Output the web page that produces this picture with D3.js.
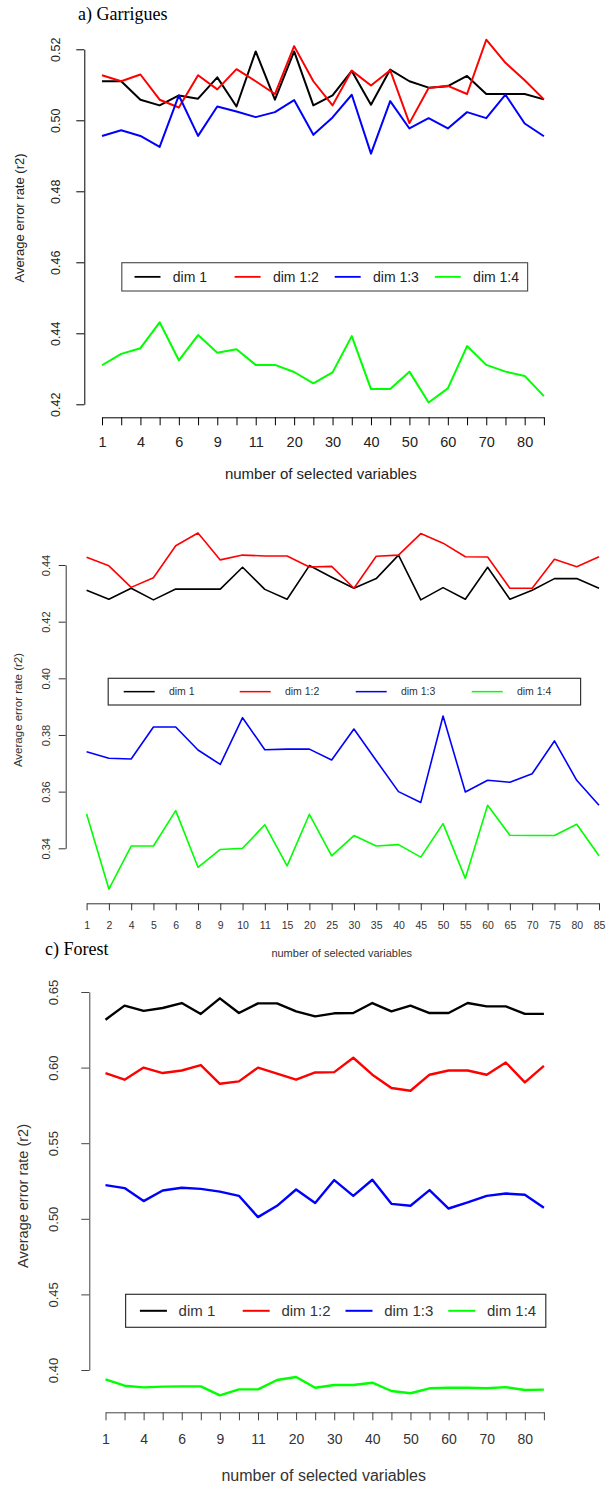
<!DOCTYPE html>
<html>
<head>
<meta charset="utf-8">
<script src="https://cdn.jsdelivr.net/npm/d3@7"></script>
<style>
  body { margin: 0; background: #fff; }
  svg { display: block; }
</style>
</head>
<body>
<div id="chart"></div>
<script>
// number of selected variables (same for the 3 panels)
const categories = ["1", "2", "4", "5", "6", "8", "9", "10", "11", "15", "20", "25",
  "30", "35", "40", "45", "50", "55", "60", "65", "70", "75", "80", "85"];

const seriesNames = ["dim 1", "dim 1:2", "dim 1:3", "dim 1:4"];
const seriesColors = ["#000000", "#ff0000", "#0000ff", "#00ff00"];

// a) Garrigues
const aDim1 = [0.511, 0.511, 0.5058, 0.5042, 0.507, 0.5061, 0.5121, 0.5039, 0.5194, 0.5058, 0.5194, 0.5042,
  0.507, 0.5139, 0.5044, 0.5143, 0.511, 0.5092, 0.5096, 0.5125, 0.5074, 0.5074, 0.5074, 0.5059];
const aDim12 = [0.5127, 0.511, 0.5129, 0.5058, 0.5036, 0.5127, 0.5087, 0.5144, 0.511, 0.5074, 0.5209, 0.511,
  0.5042, 0.514, 0.5098, 0.5141, 0.4992, 0.5091, 0.5097, 0.5074, 0.5227, 0.5162, 0.5113, 0.5059];
const aDim13 = [0.4956, 0.4972, 0.4956, 0.4925, 0.507, 0.4956, 0.5039, 0.5025, 0.5009, 0.5023, 0.5057, 0.4959,
  0.5008, 0.5072, 0.4906, 0.5054, 0.4977, 0.5006, 0.4977, 0.5023, 0.5006, 0.5072, 0.4991, 0.4955];
const aDim14 = [0.431, 0.4342, 0.4358, 0.4431, 0.4324, 0.4395, 0.4345, 0.4355, 0.4311, 0.4311, 0.4291, 0.4259,
  0.429, 0.4392, 0.4243, 0.4243, 0.4292, 0.4205, 0.4245, 0.4364, 0.4311, 0.4292, 0.428, 0.4223];
const aYTicks = [0.42, 0.44, 0.46, 0.48, 0.50, 0.52];

// b) (no title)
const bDim1 = [0.4311, 0.4279, 0.4318, 0.4277, 0.4315, 0.4315, 0.4315, 0.4392, 0.4314, 0.4279, 0.4398, 0.4357,
  0.4318, 0.4352, 0.4435, 0.4277, 0.432, 0.4279, 0.4392, 0.4279, 0.4311, 0.4352, 0.4352, 0.4318];
const bDim12 = [0.4427, 0.4397, 0.4321, 0.4355, 0.4468, 0.4513, 0.4418, 0.4435, 0.4432, 0.4432, 0.4393, 0.4395,
  0.4318, 0.4431, 0.4435, 0.4511, 0.4477, 0.4429, 0.4428, 0.4318, 0.4318, 0.442, 0.4394, 0.4429];
const bDim13 = [0.3741, 0.3718, 0.3715, 0.3828, 0.3828, 0.3747, 0.3696, 0.3861, 0.3748, 0.375, 0.375, 0.3712,
  0.3821, 0.371, 0.36, 0.3562, 0.3867, 0.3599, 0.364, 0.3633, 0.3663, 0.3779, 0.364, 0.3552];
const bDim14 = [0.3521, 0.3256, 0.3408, 0.3408, 0.3533, 0.3333, 0.3396, 0.34, 0.3483, 0.3338, 0.352, 0.3373,
  0.3445, 0.3408, 0.3413, 0.3369, 0.3487, 0.3294, 0.3552, 0.3446, 0.3445, 0.3445, 0.3485, 0.3374];
const bYTicks = [0.34, 0.36, 0.38, 0.40, 0.42, 0.44];

// c) Forest
const cDim1 = [0.6317, 0.641, 0.6375, 0.6394, 0.6427, 0.6355, 0.6458, 0.6361, 0.6425, 0.6425, 0.6372, 0.6339,
  0.6359, 0.6361, 0.6427, 0.6372, 0.641, 0.6361, 0.6361, 0.6427, 0.6405, 0.6405, 0.6355, 0.6355];
const cDim12 = [0.5964, 0.592, 0.6, 0.5964, 0.5981, 0.6017, 0.5893, 0.5909, 0.6, 0.596, 0.592, 0.5968,
  0.597, 0.6065, 0.5953, 0.5865, 0.5847, 0.5953, 0.5981, 0.5981, 0.5953, 0.6034, 0.5902, 0.6012];
const cDim13 = [0.5223, 0.5203, 0.5117, 0.5187, 0.5205, 0.5198, 0.518, 0.5152, 0.5011, 0.5086, 0.5194, 0.5104,
  0.5256, 0.5152, 0.5258, 0.5099, 0.5086, 0.519, 0.5068, 0.5108, 0.5152, 0.5167, 0.5159, 0.5073];
const cDim14 = [0.3938, 0.3896, 0.3885, 0.389, 0.3892, 0.3892, 0.3832, 0.3872, 0.3872, 0.3934, 0.3954, 0.3883,
  0.3901, 0.3901, 0.3916, 0.3861, 0.3846, 0.3879, 0.3883, 0.3883, 0.3879, 0.3887, 0.3868, 0.387];
const cYTicks = [0.40, 0.45, 0.50, 0.55, 0.60, 0.65];

const sans = "'Liberation Sans', Arial, sans-serif";
const serif = "'Liberation Serif', 'Times New Roman', serif";

const svg = d3.select("#chart").append("svg")
  .attr("width", 606)
  .attr("height", 1485);

function drawPanel(p) {
  const g = svg.append("g");
  const x = d3.scalePoint().domain(categories).range(p.xRange);
  const y = d3.scaleLinear().domain(p.yDomain).range(p.yRange);

  if (p.title) {
    g.append("text")
      .attr("x", p.title.x).attr("y", p.title.y)
      .style("font-family", serif).style("font-size", p.title.size + "px")
      .attr("fill", "#000")
      .text(p.title.text);
  }

  // y axis, rotated labels like R
  const ya = g.append("g")
    .attr("transform", `translate(${p.yAxisX},0)`)
    .call(d3.axisLeft(y).tickValues(p.yTicks).tickSize(p.tick).tickSizeOuter(0)
      .tickFormat(d3.format(".2f")));
  ya.selectAll("text")
    .attr("x", 0).attr("dy", "0.35em")
    .attr("transform", `translate(${p.yLabX - p.yAxisX},0) rotate(-90)`)
    .style("text-anchor", "middle")
    .style("font-family", sans).style("font-size", p.yTickSize + "px")
    .attr("fill", p.textColor);

  // x axis
  const xa = g.append("g")
    .attr("transform", `translate(0,${p.xAxisY})`)
    .call(d3.axisBottom(x).tickSize(p.tick).tickSizeOuter(0)
      .tickFormat((d, i) => (i % p.labelEvery == 0 ? d : "")));
  xa.selectAll("text")
    .attr("y", p.xLabY - p.xAxisY).attr("dy", "0.35em")
    .style("font-family", sans).style("font-size", p.xTickSize + "px")
    .attr("fill", p.textColor);

  [ya, xa].forEach((a) => {
    a.select(".domain").attr("stroke", p.axisColor).attr("stroke-width", 1);
    a.selectAll(".tick line").attr("stroke", p.axisColor).attr("stroke-width", 1);
  });

  g.append("text")
    .attr("x", p.xTitle[0]).attr("y", p.xTitle[1]).attr("dy", "0.35em")
    .style("text-anchor", "middle")
    .style("font-family", sans).style("font-size", p.xTitleSize + "px")
    .attr("fill", p.textColor)
    .text("number of selected variables");

  g.append("text")
    .attr("transform", `translate(${p.yTitle[0]},${p.yTitle[1]}) rotate(-90)`)
    .attr("dy", "0.3em")
    .style("text-anchor", "middle")
    .style("font-family", sans).style("font-size", p.yTitleSize + "px")
    .attr("fill", p.textColor)
    .text("Average error rate (r2)");

  const line = d3.line()
    .x((d, i) => x(categories[i]))
    .y((d) => y(d));

  p.series.forEach((s, k) => {
    g.append("path")
      .datum(s)
      .attr("d", line)
      .attr("fill", "none")
      .attr("stroke", seriesColors[k])
      .attr("stroke-width", p.lineWidth)
      .attr("stroke-linejoin", "round");
  });

  // legend
  const L = p.legend;
  g.append("rect")
    .attr("x", L.x0).attr("y", L.y0)
    .attr("width", L.x1 - L.x0).attr("height", L.y1 - L.y0)
    .attr("fill", "none")
    .attr("stroke", L.border).attr("stroke-width", 1.2);
  const cy = (L.y0 + L.y1) / 2;
  seriesNames.forEach((name, k) => {
    const lx = L.start + k * L.step;
    g.append("line")
      .attr("x1", lx).attr("x2", lx + L.len)
      .attr("y1", cy).attr("y2", cy)
      .attr("stroke", seriesColors[k]).attr("stroke-width", L.width);
    g.append("text")
      .attr("x", lx + L.textOff).attr("y", cy).attr("dy", "0.35em")
      .style("font-family", sans).style("font-size", L.size + "px")
      .attr("fill", p.textColor)
      .text(name);
  });
}

drawPanel({
  title: { text: "a) Garrigues", x: 78, y: 20, size: 18 },
  xRange: [102, 543.9], yDomain: [0.42, 0.52], yRange: [404.3, 49.3],
  yTicks: aYTicks, yAxisX: 84.3, xAxisY: 417.3, tick: 8, labelEvery: 2,
  yLabX: 56, yTickSize: 12.5, xLabY: 441.7, xTickSize: 14.5,
  xTitle: [320.8, 473.3], xTitleSize: 15, yTitle: [20, 218], yTitleSize: 13,
  textColor: "#222", axisColor: "#000", lineWidth: 2,
  series: [aDim1, aDim12, aDim13, aDim14],
  legend: { x0: 121.8, x1: 527.6, y0: 262.7, y1: 291, start: 134.5, step: 100.1, len: 26,
    textOff: 38.3, size: 14, width: 1.8, border: "#555" }
});

drawPanel({
  title: null,
  xRange: [86.6, 599], yDomain: [0.34, 0.44], yRange: [848.3, 565],
  yTicks: bYTicks, yAxisX: 65.7, xAxisY: 903.3, tick: 7, labelEvery: 1,
  yLabX: 46.2, yTickSize: 11, xLabY: 925, xTickSize: 10.5,
  xTitle: [341.7, 953.3], xTitleSize: 11, yTitle: [19, 710], yTitleSize: 11.5,
  textColor: "#333", axisColor: "#333", lineWidth: 1.6,
  series: [bDim1, bDim12, bDim13, bDim14],
  legend: { x0: 108.2, x1: 580.6, y0: 678.3, y1: 705, start: 123.7, step: 116, len: 31,
    textOff: 45.2, size: 10.5, width: 1.5, border: "#333" }
});

drawPanel({
  title: { text: "c) Forest", x: 45, y: 955, size: 18 },
  xRange: [105.5, 543.9], yDomain: [0.40, 0.65], yRange: [1370, 992],
  yTicks: cYTicks, yAxisX: 89.3, xAxisY: 1412.3, tick: 8, labelEvery: 2,
  yLabX: 53.3, yTickSize: 13, xLabY: 1439, xTickSize: 14,
  xTitle: [323.7, 1475], xTitleSize: 16, yTitle: [23.3, 1196], yTitleSize: 14.5,
  textColor: "#333", axisColor: "#444", lineWidth: 2.4,
  series: [cDim1, cDim12, cDim13, cDim14],
  legend: { x0: 125.6, x1: 545.8, y0: 1294.3, y1: 1327.3, start: 139.9, step: 102.8, len: 27,
    textOff: 38.7, size: 15, width: 2, border: "#333" }
});
</script>
</body>
</html>
